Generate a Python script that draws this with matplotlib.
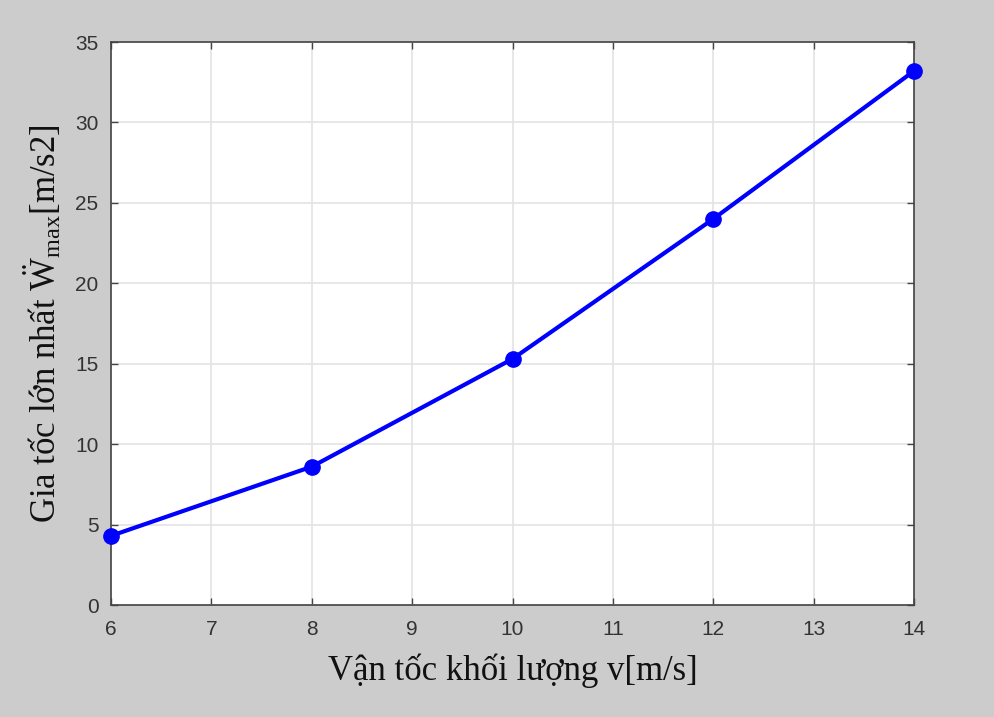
import matplotlib
matplotlib.use("Agg")
import matplotlib.pyplot as plt

# van toc (m/s) va gia toc lon nhat tuong ung (m/s2)
van_toc = [6, 8, 10, 12, 14]
gia_toc_max = [4.3, 8.6, 15.3, 24.0, 33.2]

x_ticks = [6, 7, 8, 9, 10, 11, 12, 13, 14]
y_ticks = [0, 5, 10, 15, 20, 25, 30, 35]

plt.rcParams['mathtext.fontset'] = 'custom'
plt.rcParams['mathtext.rm'] = 'Liberation Serif'
plt.rcParams['mathtext.it'] = 'Liberation Serif'

fig = plt.figure(figsize=(9.95, 7.17), dpi=100, facecolor='#cccccc')
ax = fig.add_axes([0.1116, 0.1562, 0.807, 0.7852])
ax.set_facecolor('white')

ax.plot(van_toc, gia_toc_max, color='#0000ff', linewidth=3, marker='o',
        markersize=11, zorder=3, clip_on=False)

ax.set_xlim(6, 14)
ax.set_ylim(0, 35)
ax.set_xticks(x_ticks)
ax.set_yticks(y_ticks)
ax.grid(True, color='#e3e3e3', linewidth=1.2)
ax.set_axisbelow(True)

ax.tick_params(direction='in', length=5, width=1, color='#444444',
               top=True, right=True, labelsize=15, labelcolor='#333333')
ax.tick_params(axis='x', pad=11)
ax.tick_params(axis='y', pad=9)
for lbl in ax.get_xticklabels() + ax.get_yticklabels():
    lbl.set_family('Liberation Sans')
for sp in ax.spines.values():
    sp.set_color('#444444')
    sp.set_linewidth(1.2)

ax.set_xlabel('Vận tốc khối lượng v[m/s]', family='Liberation Serif',
              fontsize=25, color='#111111', labelpad=10)
ax.set_ylabel(r'Gia tốc lớn nhất $\ddot{\mathrm{W}}_{\mathrm{max}}$[m/s2]',
              family='Liberation Serif', fontsize=25, color='#111111', labelpad=8)

fig.savefig('out.png', dpi=100, facecolor=fig.get_facecolor())
